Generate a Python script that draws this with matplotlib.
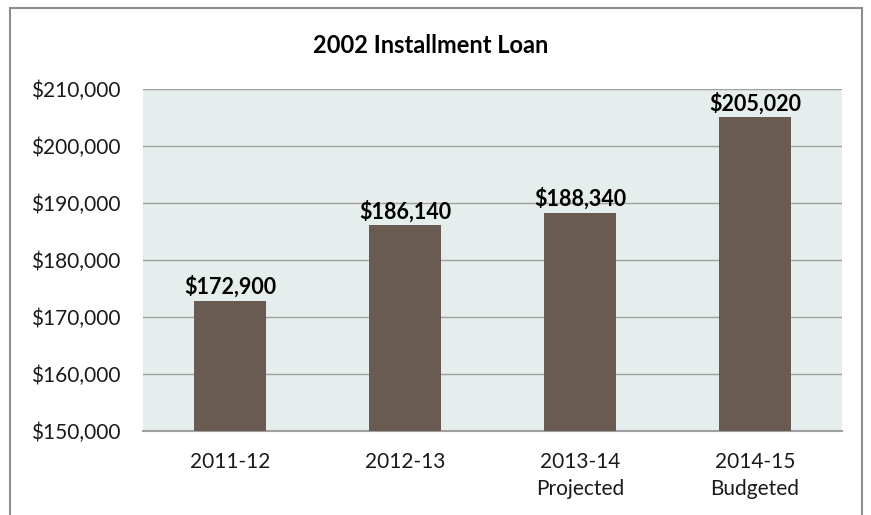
import matplotlib.pyplot as plt
import matplotlib.patches as mpatches
from matplotlib.ticker import FuncFormatter

plt.rcParams['font.family'] = ['Lato', 'DejaVu Sans']

categories = ['2011-12', '2012-13', '2013-14\nProjected', '2014-15\nBudgeted']
values = [172900, 186140, 188340, 205020]
yticks = [150000, 160000, 170000, 180000, 190000, 200000, 210000]

fig = plt.figure(figsize=(8.71, 5.15), dpi=100)
ax = fig.add_axes([0.164, 0.163, 0.803, 0.664])
ax.set_facecolor('#e5eded')

# outer chart border (bottom edge cut off in reference)
fig.patches.append(mpatches.Rectangle((0.0115, -0.05), 0.978, 1.035, transform=fig.transFigure,
                                      fill=False, edgecolor='#8c8c8c', linewidth=1.5))

x = range(len(categories))
bars = ax.bar(x, values, width=0.41, color='#695b51', zorder=3)
for b, v in zip(bars, values):
    ax.text(b.get_x() + b.get_width() / 2, v + 500, '${:,}'.format(v),
            ha='center', va='bottom', fontsize=15.5, fontweight='bold', color='black')

ax.set_xlim(-0.5, 3.5)
ax.set_ylim(150000, 210000)
ax.set_yticks(yticks)
ax.yaxis.set_major_formatter(FuncFormatter(lambda v, p: '${:,.0f}'.format(v)))
ax.set_xticks(list(x))
ax.set_xticklabels(categories, linespacing=1.45)
ax.grid(axis='y', color='#a0a0a0', linewidth=1, zorder=0)
ax.tick_params(axis='both', length=0, labelsize=15, labelcolor='#1a1a1a')
ax.tick_params(axis='x', pad=15)
ax.tick_params(axis='y', pad=16)
for s in ['left', 'right', 'top']:
    ax.spines[s].set_visible(False)
ax.spines['bottom'].set_color('#a0a0a0')
ax.spines['bottom'].set_linewidth(1.5)

fig.text(0.494, 0.912, '2002 Installment Loan', ha='center', va='center',
         fontsize=17, fontweight='bold')

fig.savefig('out.png', dpi=100)
